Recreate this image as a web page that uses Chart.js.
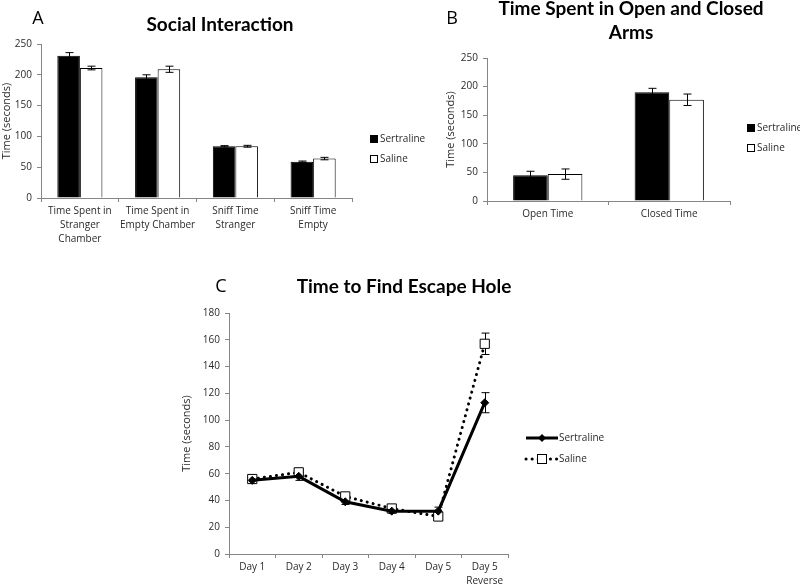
<!DOCTYPE html>
<html>
<head>
<meta charset="utf-8">
<script src="https://cdn.jsdelivr.net/npm/chart.js@4/dist/chart.umd.min.js"></script>
<style>
  html,body{margin:0;padding:0;background:#fff;}
  #wrap{position:relative;width:800px;height:586px;overflow:hidden;}
  .box{position:absolute;}
</style>
</head>
<body>
<div id="wrap">
  <div class="box" style="left:0;top:0;width:460px;height:260px;"><canvas id="cA"></canvas></div>
  <div class="box" style="left:400px;top:0;width:400px;height:260px;"><canvas id="cB"></canvas></div>
  <div class="box" style="left:180px;top:260px;width:440px;height:326px;"><canvas id="cC"></canvas></div>
</div>
<script>
// ---------- DATA ----------
const seriesNames = ["Sertraline", "Saline"];

const socialCategories = [["Time Spent in","Stranger","Chamber"],["Time Spent in","Empty Chamber"],["Sniff Time","Stranger"],["Sniff Time","Empty"]];
const socialSertraline = [231, 196, 84, 59];
const socialSertralineErr = [5, 4, 1, 1];
const socialSaline = [211, 209, 84, 64];
const socialSalineErr = [3, 5, 1.5, 2];

const armsCategories = ["Open Time", "Closed Time"];
const armsSertraline = [45, 190];
const armsSertralineErr = [7, 7];
const armsSaline = [47, 177];
const armsSalineErr = [9, 10];

const escapeDays = ["Day 1","Day 2","Day 3","Day 4","Day 5",["Day 5","Reverse"]];
const escapeSertraline = [55, 58, 39, 32, 32, 113];
const escapeSertralineErr = [1.5, 3, 2, 1.5, 3, 7.5];
const escapeSaline = [56, 61, 43, 34, 28, 157];
const escapeSalineErr = [1, 2, 1.5, 1, 3, 8];

const titles = {A: "Social Interaction", B: ["Time Spent in Open and Closed", "Arms"], C: "Time to Find Escape Hole"};
const yTitle = "Time (seconds)";

// ---------- STYLE ----------
const FONT = "'Open Sans', 'DejaVu Sans', sans-serif";
const TITLE_FONT = "bold 19px Lato, 'Open Sans', sans-serif";
const AXIS_COLOR = '#868686';
const TEXT_COLOR = '#2a2a2a';

// ---------- PLUGINS ----------
function drawErrors(chart, opts){
  const ctx = chart.ctx, ys = chart.scales.y, cap = opts.cap || 4;
  chart.data.datasets.forEach((ds, i) => {
    if (!ds.errorBars) return;
    const meta = chart.getDatasetMeta(i);
    meta.data.forEach((el, j) => {
      const v = ds.data[j], e = ds.errorBars[j];
      const x = Math.round(el.x) + 0.5;
      const yt = ys.getPixelForValue(v + e), yb = ys.getPixelForValue(v - e);
      ctx.save();
      ctx.strokeStyle = '#000';
      ctx.lineWidth = 1;
      ctx.setLineDash([]);
      ctx.beginPath();
      ctx.moveTo(x, yt); ctx.lineTo(x, yb);
      ctx.moveTo(x - cap, yt); ctx.lineTo(x + cap, yt);
      ctx.moveTo(x - cap, yb); ctx.lineTo(x + cap, yb);
      ctx.stroke();
      ctx.restore();
    });
  });
}
const errorBarPlugin = {
  id: 'errorBars',
  beforeDatasetsDraw(chart, args, opts){ if (opts.behind) drawErrors(chart, opts); },
  afterDatasetsDraw(chart, args, opts){ if (!opts.behind) drawErrors(chart, opts); }
};

const decorPlugin = {
  id: 'decor',
  afterDraw(chart, args, opts){
    const ctx = chart.ctx;
    ctx.save();
    (opts.texts || []).forEach(t => {
      ctx.font = t.font;
      ctx.fillStyle = t.color || '#000';
      ctx.textAlign = t.align || 'center';
      ctx.textBaseline = 'middle';
      ctx.fillText(t.text, t.x, t.y);
    });
    const lg = opts.legend;
    if (lg) {
      chart.data.datasets.forEach((ds, i) => {
        const y = lg.y + i * lg.gap;
        ctx.font = '10px ' + FONT;
        ctx.fillStyle = TEXT_COLOR;
        ctx.textAlign = 'left';
        ctx.textBaseline = 'middle';
        if (lg.type === 'box') {
          ctx.fillStyle = ds.backgroundColor;
          ctx.fillRect(lg.x + 0.5, y - 3.5, 7, 7);
          ctx.strokeStyle = '#000'; ctx.lineWidth = 1;
          ctx.strokeRect(lg.x + 0.5, y - 3.5, 7, 7);
          ctx.fillStyle = TEXT_COLOR;
          ctx.fillText(ds.label, lg.x + 10, y);
        } else {
          ctx.strokeStyle = '#000';
          ctx.lineWidth = 3;
          ctx.lineCap = ds.borderCapStyle || 'butt';
          ctx.setLineDash(ds.borderDash || []);
          ctx.beginPath(); ctx.moveTo(lg.x, y); ctx.lineTo(lg.x + 32, y); ctx.stroke();
          ctx.setLineDash([]);
          ctx.lineWidth = 1;
          const cx = lg.x + 16;
          if (ds.pointStyle === 'rectRot') {
            ctx.fillStyle = '#000';
            ctx.beginPath(); ctx.moveTo(cx, y - 4); ctx.lineTo(cx + 4, y); ctx.lineTo(cx, y + 4); ctx.lineTo(cx - 4, y); ctx.closePath(); ctx.fill();
          } else {
            ctx.fillStyle = '#fff';
            ctx.fillRect(cx - 4.5, y - 4.5, 9, 9);
            ctx.strokeRect(cx - 4.5, y - 4.5, 9, 9);
          }
          ctx.fillStyle = TEXT_COLOR;
          ctx.fillText(ds.label, lg.x + 33, y);
        }
      });
    }
    ctx.restore();
  }
};

function yAxis(max, step, width){
  return {
    min: 0, max: max,
    ticks: {stepSize: step, color: TEXT_COLOR, font: {family: FONT, size: 10}, padding: 5},
    grid: {display: true, drawOnChartArea: false, drawTicks: true, tickLength: 4, color: AXIS_COLOR},
    border: {display: true, color: AXIS_COLOR, width: 1},
    title: {display: true, text: yTitle, color: TEXT_COLOR, font: {family: FONT, size: 11}, padding: {top: 0, bottom: 0}},
    afterFit(s){ s.width = width; }
  };
}
function xAxis(height){
  return {
    offset: true,
    ticks: {color: TEXT_COLOR, font: {family: FONT, size: 10, lineHeight: 1.4}, padding: 2, maxRotation: 0, autoSkip: false},
    grid: {display: true, offset: true, drawOnChartArea: false, drawTicks: true, tickLength: 4, color: AXIS_COLOR},
    border: {display: true, color: AXIS_COLOR, width: 1},
    afterFit(s){ s.height = height; }
  };
}

Chart.defaults.animation = false;
Chart.defaults.responsive = true;
Chart.defaults.maintainAspectRatio = false;

// ---------- PANEL A ----------
new Chart(document.getElementById('cA'), {
  type: 'bar',
  data: {
    labels: socialCategories,
    datasets: [
      {label: seriesNames[0], data: socialSertraline, errorBars: socialSertralineErr, backgroundColor: '#000', borderColor: '#000', borderWidth: 1},
      {label: seriesNames[1], data: socialSaline, errorBars: socialSalineErr, backgroundColor: '#fff', borderColor: '#000', borderWidth: 1}
    ]
  },
  options: {
    layout: {padding: {left: 0, top: 44, right: 108, bottom: 7}},
    datasets: {bar: {categoryPercentage: 0.58, barPercentage: 1}},
    scales: {x: xAxis(55), y: yAxis(250, 50, 41)},
    plugins: {
      legend: {display: false}, tooltip: {enabled: false},
      errorBars: {cap: 4},
      decor: {
        texts: [
          {text: 'A', x: 38, y: 19, font: '18px ' + FONT},
          {text: titles.A, x: 220, y: 25, font: TITLE_FONT}
        ],
        legend: {type: 'box', x: 370, y: 139, gap: 20}
      }
    }
  },
  plugins: [errorBarPlugin, decorPlugin]
});

// ---------- PANEL B ----------
new Chart(document.getElementById('cB'), {
  type: 'bar',
  data: {
    labels: armsCategories,
    datasets: [
      {label: seriesNames[0], data: armsSertraline, errorBars: armsSertralineErr, backgroundColor: '#000', borderColor: '#000', borderWidth: 1},
      {label: seriesNames[1], data: armsSaline, errorBars: armsSalineErr, backgroundColor: '#fff', borderColor: '#000', borderWidth: 1}
    ]
  },
  options: {
    layout: {padding: {left: 44, top: 58, right: 70, bottom: 9}},
    datasets: {bar: {categoryPercentage: 0.57, barPercentage: 1}},
    scales: {x: xAxis(50), y: yAxis(250, 50, 43)},
    plugins: {
      legend: {display: false}, tooltip: {enabled: false},
      errorBars: {cap: 4},
      decor: {
        texts: [
          {text: 'B', x: 52, y: 19, font: '18px ' + FONT},
          {text: titles.B[0], x: 231, y: 9, font: TITLE_FONT},
          {text: titles.B[1], x: 231, y: 33, font: TITLE_FONT}
        ],
        legend: {type: 'box', x: 347, y: 128, gap: 20}
      }
    }
  },
  plugins: [errorBarPlugin, decorPlugin]
});

// ---------- PANEL C ----------
new Chart(document.getElementById('cC'), {
  type: 'line',
  data: {
    labels: escapeDays,
    datasets: [
      {label: seriesNames[0], data: escapeSertraline, errorBars: escapeSertralineErr, borderColor: '#000', borderWidth: 3, backgroundColor: '#000',
       pointStyle: 'rectRot', pointRadius: 4, pointBackgroundColor: '#000', pointBorderColor: '#000', pointBorderWidth: 1, tension: 0, fill: false},
      {label: seriesNames[1], data: escapeSaline, errorBars: escapeSalineErr, borderColor: '#000', borderWidth: 3, backgroundColor: '#fff',
       borderDash: [0.1, 6], borderCapStyle: 'round',
       pointStyle: 'rect', pointRadius: 6.5, pointBackgroundColor: '#fff', pointBorderColor: '#000', pointBorderWidth: 1, tension: 0, fill: false}
    ]
  },
  options: {
    layout: {padding: {left: 0, top: 53, right: 112, bottom: 0}},
    scales: {x: xAxis(32), y: yAxis(180, 20, 49)},
    plugins: {
      legend: {display: false}, tooltip: {enabled: false},
      errorBars: {cap: 4, behind: true},
      decor: {
        texts: [
          {text: 'C', x: 41, y: 27, font: '18px ' + FONT},
          {text: titles.C, x: 224, y: 27, font: TITLE_FONT}
        ],
        legend: {type: 'line', x: 346, y: 178, gap: 21}
      }
    }
  },
  plugins: [errorBarPlugin, decorPlugin]
});
</script>
</body>
</html>
